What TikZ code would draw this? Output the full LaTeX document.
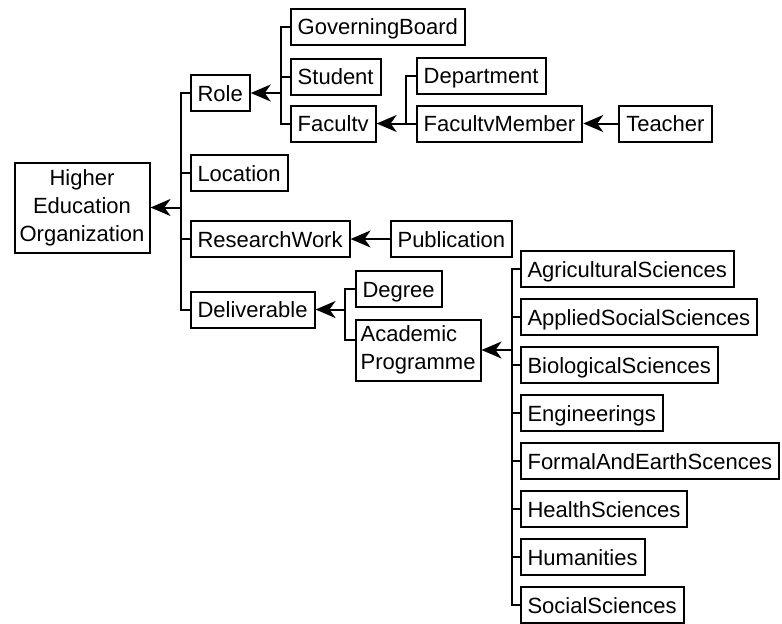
\documentclass[tikz,border=0pt]{standalone}
\usepackage{fontspec}
\setmainfont{Liberation Sans}
\usetikzlibrary{positioning,calc}
\usetikzlibrary{arrows.meta}

\begin{document}
\begin{tikzpicture}[
      cls/.style = {draw, line width=1pt, inner xsep=3.5pt, inner ysep=0pt,
         minimum height=18pt, text height=8pt, text depth=0pt,
         font=\fontsize{11}{14}\selectfont},
      bigcls/.style = {draw, line width=1pt, inner xsep=1.5pt, inner ysep=0pt,
         font=\fontsize{11}{14}\selectfont},
      link/.style = {line width=1pt},
      isa/.style = {line width=1pt, -{Stealth[length=10pt,width=8.5pt,inset=3pt]}},
      node distance = 19.5pt
]
   \useasboundingbox (0,0) rectangle (391pt,-311.5pt);
   \clip (0,0) rectangle (391pt,-311.5pt);

   \node[bigcls, align=center, minimum width=67.5pt, minimum height=45pt]
      (heo) at (41pt,-103.75pt) {Higher\\Education\\Organization};

   % first level
   \node[cls, right=of heo, yshift=57.25pt]          (role) {Role};
   \node[cls, below=40pt of role.west, anchor=west]    (location) {Location};
   \node[cls, below=33pt of location.west, anchor=west] (research) {ResearchWork};
   \node[cls, below=35.25pt of research.west, anchor=west] (deliverable) {Deliverable};

   % role
   \node[cls, right=of role, yshift=33.25pt]             (board) {GoverningBoard};
   \node[cls, below=25pt of board.west, anchor=west]     (student) {Student};
   \node[cls, below=23.5pt of student.west, anchor=west] (faculty) {Facultv};

   % faculty
   \node[cls, right=of faculty, yshift=24pt] (department) {Department};
   \node[cls, right=of faculty]              (member) {FacultvMember};
   \node[cls, right=17.5pt of member]        (teacher) {Teacher};

   % research work
   \node[cls, right=of research] (publication) {Publication};

   % deliverable
   \node[cls, right=of deliverable, yshift=10.25pt] (degree) {Degree};
   \node[bigcls, align=left, minimum width=62.5pt, minimum height=30.5pt,
      right=of deliverable, yshift=-20.25pt] (programme) {Academic\\Programme};

   % knowledge areas
   \node[cls, right=19pt of programme, yshift=40.5pt] (area1) {AgriculturalSciences};
   \foreach \txt [count=\i from 2] in {AppliedSocialSciences,BiologicalSciences,
         Engineerings,FormalAndEarthScences,HealthSciences,Humanities,SocialSciences}{
      \pgfmathtruncatemacro\prev{\i-1}
      \node[cls, below=24pt of area\prev.west, anchor=west] (area\i) {\txt};
   }

   % connectors
   \coordinate (t0) at ($(heo.east)+(15pt,0)$);
   \draw[link] (role.west) -| (t0) |- (deliverable.west);
   \foreach \c in {location,research}
      \draw[link] (\c.west) -- (\c.west -| t0);
   \draw[isa] (t0) -- (heo.east);

   \coordinate (t1) at ($(role.east)+(15pt,0)$);
   \draw[link] (board.west) -| (t1) |- (faculty.west);
   \draw[link] (student.west) -- (student.west -| t1);
   \draw[isa] (t1) -- (role.east);

   \coordinate (t2) at ($(faculty.east)+(14.5pt,0)$);
   \draw[link] (department.west) -| (t2) -- (member.west);
   \draw[isa] (t2) -- (faculty.east);

   \draw[isa] (teacher.west) -- (member.east);
   \draw[isa] (publication.west) -- (research.east);

   \coordinate (t3) at ($(deliverable.east)+(14.5pt,0)$);
   \draw[link] (degree.west) -| (t3) |- ($(programme.west)+(0,5pt)$);
   \draw[isa] (t3) -- (deliverable.east);

   \coordinate (t4) at ($(programme.east)+(15pt,0)$);
   \draw[link] (area1.west) -| (t4) |- (area8.west);
   \foreach \i in {2,...,7}
      \draw[link] (area\i.west) -- (area\i.west -| t4);
   \draw[isa] (t4) -- (programme.east);
\end{tikzpicture}
\end{document}
